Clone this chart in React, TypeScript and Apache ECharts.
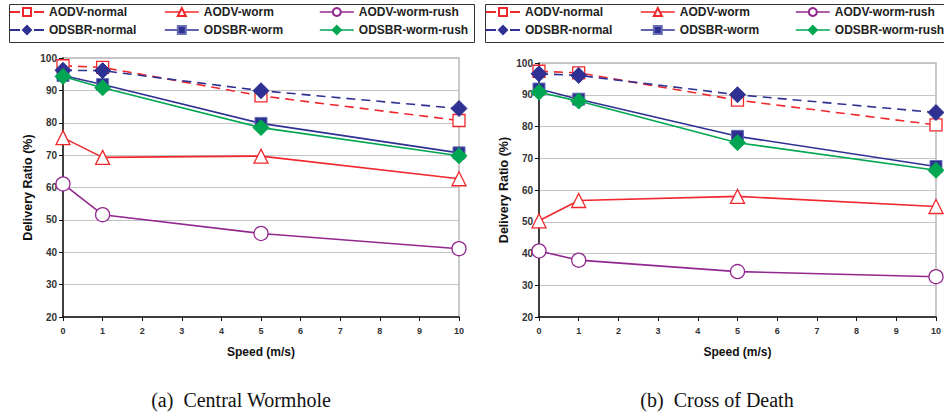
import React, { useEffect, useRef } from "react";
import * as echarts from "echarts";

const speeds = [0, 1, 5, 10];
const seriesNames = ["AODV-normal", "AODV-worm", "AODV-worm-rush", "ODSBR-normal", "ODSBR-worm", "ODSBR-worm-rush"];

// (a) Central Wormhole
const aAodvNormal = [97.6, 97.1, 88.3, 80.7];
const aAodvWorm = [75.4, 69.3, 69.7, 62.7];
const aAodvWormRush = [61.1, 51.6, 45.8, 41.1];
const aOdsbrNormal = [96.2, 96.1, 89.9, 84.4];
const aOdsbrWorm = [94.6, 91.8, 79.8, 70.7];
const aOdsbrWormRush = [94.3, 90.8, 78.5, 69.8];

// (b) Cross of Death
const bAodvNormal = [97.4, 96.9, 88.3, 80.5];
const bAodvWorm = [50.3, 56.7, 58.0, 54.8];
const bAodvWormRush = [40.8, 37.9, 34.3, 32.7];
const bOdsbrNormal = [96.6, 96.1, 90.0, 84.4];
const bOdsbrWorm = [91.8, 88.6, 76.9, 67.4];
const bOdsbrWormRush = [90.8, 88.0, 74.9, 66.2];

const xTicks = [0, 10, 1];
const yTicks = [20, 100, 10];
const captions = ["(a)  Central Wormhole", "(b)  Cross of Death"];

const RED = "#f0282d";
const NAVY = "#2e3192";
const PURPLE = "#92278f";
const GREEN = "#00a651";

const styleFor: Record<string, any> = {
  "AODV-normal": { color: RED, symbol: "rect", size: 12, dashed: true, empty: true },
  "AODV-worm": { color: RED, symbol: "triangle", size: 14, dashed: false, empty: true },
  "AODV-worm-rush": { color: PURPLE, symbol: "circle", size: 14, dashed: false, empty: true },
  "ODSBR-normal": { color: NAVY, symbol: "diamond", size: 16, dashed: true, empty: false },
  "ODSBR-worm": { color: NAVY, symbol: "rect", size: 12, dashed: false, empty: false },
  "ODSBR-worm-rush": { color: GREEN, symbol: "diamond", size: 16, dashed: false, empty: false },
};

const drawOrder = ["AODV-normal", "AODV-worm", "AODV-worm-rush", "ODSBR-worm", "ODSBR-normal", "ODSBR-worm-rush"];

export default function App() {
  const ref = useRef<HTMLDivElement>(null);
  useEffect(() => {
    if (!ref.current) return;
    const chart = echarts.init(ref.current, undefined, { renderer: "svg" });
    const dataSets = [
      {
        "AODV-normal": aAodvNormal,
        "AODV-worm": aAodvWorm,
        "AODV-worm-rush": aAodvWormRush,
        "ODSBR-normal": aOdsbrNormal,
        "ODSBR-worm": aOdsbrWorm,
        "ODSBR-worm-rush": aOdsbrWormRush,
      },
      {
        "AODV-normal": bAodvNormal,
        "AODV-worm": bAodvWorm,
        "AODV-worm-rush": bAodvWormRush,
        "ODSBR-normal": bOdsbrNormal,
        "ODSBR-worm": bOdsbrWorm,
        "ODSBR-worm-rush": bOdsbrWormRush,
      },
    ] as Record<string, number[]>[];

    const grids = [
      { left: 63, top: 58, width: 396, height: 259 },
      { left: 539, top: 63, width: 397, height: 254 },
    ];
    const offsets = [0, 476];

    const series: any[] = [];
    dataSets.forEach((ds, gi) => {
      drawOrder.forEach((name) => {
        const st = styleFor[name];
        series.push({
          type: "line",
          name,
          xAxisIndex: gi,
          yAxisIndex: gi,
          data: speeds.map((s, i) => [s, ds[name][i]]),
          symbol: st.symbol,
          symbolSize: st.size,
          showSymbol: true,
          color: st.color,
          lineStyle: { color: st.color, width: 1.6, type: st.dashed ? [9, 6] : "solid" },
          itemStyle: st.empty
            ? { color: "#fff", borderColor: st.color, borderWidth: 1.3, opacity: 1 }
            : { color: st.color, borderColor: name === "ODSBR-worm" ? "#6a6fb5" : st.color, borderWidth: 1 },
          emphasis: { disabled: true },
          z: 3,
        });
      });
    });

    const legends: any[] = [];
    offsets.forEach((ox) => {
      seriesNames.forEach((name, idx) => {
        const col = idx % 3;
        const row = Math.floor(idx / 3);
        const st = styleFor[name];
        legends.push({
          data: [name],
          left: ox + 9 + col * 155,
          top: 6 + row * 18,
          itemWidth: 34,
          itemHeight: 10,
          padding: 0,
          selectedMode: false,
          lineStyle: st.dashed ? { type: [10, 14], width: 2 } : { width: 1.6 },
          textStyle: { fontFamily: "Liberation Sans, Arial, sans-serif", fontWeight: "bold", fontSize: 12, color: "#222" },
        });
      });
    });

    const xAxes = grids.map((_, gi) => ({
      type: "value",
      gridIndex: gi,
      min: xTicks[0],
      max: xTicks[1],
      interval: xTicks[2],
      name: "Speed (m/s)",
      nameLocation: "middle",
      nameGap: 29,
      nameTextStyle: { fontFamily: "Liberation Sans, Arial, sans-serif", fontWeight: "bold", fontSize: 12, color: "#111" },
      axisLine: { show: true, lineStyle: { color: "#111", width: 1.5 } },
      axisTick: { show: true, length: 4, lineStyle: { color: "#111" } },
      axisLabel: { fontFamily: "Liberation Sans, Arial, sans-serif", fontWeight: "bold", fontSize: 9, color: "#333", margin: 9 },
      splitLine: { show: false },
    }));
    const yAxes = grids.map((_, gi) => ({
      type: "value",
      gridIndex: gi,
      min: yTicks[0],
      max: yTicks[1],
      interval: yTicks[2],
      name: "Delivery Ratio (%)",
      nameLocation: "middle",
      nameGap: 29,
      nameTextStyle: { fontFamily: "Liberation Sans, Arial, sans-serif", fontWeight: "bold", fontSize: 12.5, color: "#111" },
      axisLine: { show: true, lineStyle: { color: "#111", width: 1.5 } },
      axisTick: { show: true, length: 4, lineStyle: { color: "#111" } },
      axisLabel: { fontFamily: "Liberation Sans, Arial, sans-serif", fontWeight: "bold", fontSize: 10, color: "#333", margin: 6 },
      splitLine: { show: true, lineStyle: { color: "#c4c4c4", width: 1 } },
    }));

    chart.setOption({
      animation: false,
      backgroundColor: "#fff",
      grid: grids.map((g) => ({ ...g, show: true, borderColor: "#b8b8b8", borderWidth: 1.5, backgroundColor: "transparent" })),
      xAxis: xAxes,
      yAxis: yAxes,
      legend: legends,
      series,
      graphic: [
        { type: "rect", left: 7, top: 2, shape: { width: 465, height: 38 }, style: { fill: "none", stroke: "#333", lineWidth: 1 }, z: -1 },
        { type: "rect", left: 483, top: 2, shape: { width: 470, height: 38 }, style: { fill: "none", stroke: "#333", lineWidth: 1 }, z: -1 },
        {
          type: "text",
          x: 241,
          y: 400,
          style: { text: captions[0], font: "20px 'Liberation Serif', 'Times New Roman', serif", fill: "#111", textAlign: "center", textVerticalAlign: "middle" },
        },
        {
          type: "text",
          x: 717,
          y: 400,
          style: { text: captions[1], font: "20px 'Liberation Serif', 'Times New Roman', serif", fill: "#111", textAlign: "center", textVerticalAlign: "middle" },
        },
      ],
    });
    return () => chart.dispose();
  }, []);
  return <div ref={ref} style={{ width: 944, height: 417, position: "absolute", left: 0, top: 0 }} />;
}
